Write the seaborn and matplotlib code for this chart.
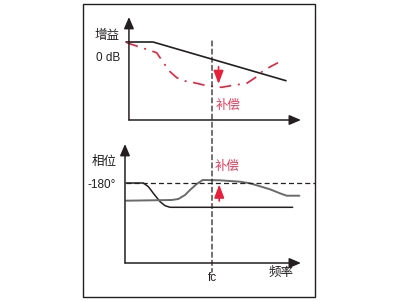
import matplotlib
matplotlib.use("Agg")
import matplotlib.pyplot as plt
import seaborn as sns
import pandas as pd
from matplotlib.patches import ConnectionPatch, Rectangle

sns.set_theme(style="white")
plt.rcParams['font.family'] = ['Liberation Sans', 'Noto Sans CJK SC', 'DejaVu Sans']

# ---- data (schematic units: frequency 0..10, gain in dB-like units, phase in degrees) ----
fc = 5.0
gain_freq = [0.0, 1.57, 9.30]
gain_vals = [0.0, 0.0, -3.87]

comp_gain_freq = [0.04, 0.91, 1.78, 2.27, 2.56, 2.95, 3.43, 4.11, 4.77, 5.56, 6.22, 7.02, 7.60, 7.97, 8.47, 8.84]
comp_gain_vals = [-0.07, -0.57, -1.07, -2.3, -2.97, -3.57, -3.9, -4.13, -4.4, -4.53, -4.33, -4.13, -3.47, -2.87, -2.4, -2.07]

phase_freq = [0.0, 1.01, 1.30, 1.59, 1.98, 2.27, 2.56, 9.69]
phase_vals = [-180, -180, -187.4, -200.6, -217.4, -225.4, -228.6, -228.6]

comp_phase_freq = [0.0, 2.66, 3.04, 3.43, 3.72, 4.11, 4.46, 5.47, 6.63, 7.21, 8.37, 8.95, 9.34, 10.08]
comp_phase_vals = [-215.4, -214, -212, -204, -194, -182, -174, -174.6, -177.4, -180.6, -192.6, -200.6, -205.4, -205.4]

ref_phase = -180
gain_arrow = (5.38, -2.47, -4.2)     # x, from, to
phase_arrow = (5.42, -216, -183)

labels = {"gain": "增益", "zero": "0 dB", "phase": "相位", "deg": "-180°",
          "comp": "补偿", "fc": "fc", "freq": "频率"}

BLACK = "#231f20"
GRAY = "#6a6a6a"
RED = "#e8203c"
RED_TXT = "#ea3a58"

W, H = 406, 301
fig = plt.figure(figsize=(W / 100, H / 100), dpi=100)

# frame
bg = fig.add_axes([0, 0, 1, 1])
bg.set_xlim(0, W); bg.set_ylim(H, 0); bg.axis("off")
bg.add_patch(Rectangle((83.3, 4), 231.7, 292.7, fill=False, ec=BLACK, lw=1.0))

def px_box(x0, x1, y0, y1):
    return [x0 / W, 1 - y1 / H, (x1 - x0) / W, (y1 - y0) / H]

ax1 = fig.add_axes(px_box(120, 306.6, 12, 127))
ax1.set_xlim(-0.35, 10.5); ax1.set_ylim(-8.5, 3.0)
ax2 = fig.add_axes(px_box(120, 306.6, 138, 275))
ax2.set_xlim(-0.35, 10.5); ax2.set_ylim(-364, -90)
for ax in (ax1, ax2):
    ax.axis("off")
    ax.patch.set_alpha(0)

arrow_kw = dict(arrowstyle='-|>,head_length=0.7,head_width=0.3', color=BLACK, lw=1.1,
                shrinkA=0, shrinkB=0, mutation_scale=10)

# top axes
ax1.annotate('', xy=(0.17, 2.5), xytext=(0.17, -7.8), arrowprops=arrow_kw, annotation_clip=False)
ax1.annotate('', xy=(10.17, -7.8), xytext=(0.17, -7.8), arrowprops=arrow_kw, annotation_clip=False)
# bottom axes
ax2.annotate('', xy=(-0.06, -102), xytext=(-0.06, -340), arrowprops=arrow_kw, annotation_clip=False)
ax2.annotate('', xy=(10.17, -340), xytext=(-0.06, -340), arrowprops=arrow_kw, annotation_clip=False)

df_gain = pd.DataFrame({"f": gain_freq, "g": gain_vals})
df_cgain = pd.DataFrame({"f": comp_gain_freq, "g": comp_gain_vals})
df_phase = pd.DataFrame({"f": phase_freq, "p": phase_vals})
df_cphase = pd.DataFrame({"f": comp_phase_freq, "p": comp_phase_vals})

sns.lineplot(data=df_gain, x="f", y="g", ax=ax1, color=BLACK, lw=1.2, estimator=None, sort=False)
sns.lineplot(data=df_cgain, x="f", y="g", ax=ax1, color=RED, lw=1.2, estimator=None, sort=False,
             linestyle=(0, (7, 4, 1.2, 4)))
sns.lineplot(data=df_phase, x="f", y="p", ax=ax2, color=BLACK, lw=1.1, estimator=None, sort=False)
sns.lineplot(data=df_cphase, x="f", y="p", ax=ax2, color=GRAY, lw=1.4, estimator=None, sort=False)

# reference -180 dashed line
ax2.plot([0.0, 10.99], [ref_phase, ref_phase], color=BLACK, lw=0.9, ls=(0, (4, 2.5)), clip_on=False)

# fc dashed vertical line across both panels
con = ConnectionPatch(xyA=(fc, 0.1), coordsA=ax1.transData, xyB=(fc, -358), coordsB=ax2.transData,
                      color=BLACK, lw=0.9, ls=(0, (4, 2.5)))
fig.add_artist(con)

# red compensation arrows
red_kw = dict(arrowstyle='-|>,head_length=0.8,head_width=0.3', color=RED, lw=1.2,
              shrinkA=0, shrinkB=0, mutation_scale=10)
ax1.annotate('', xy=(gain_arrow[0], gain_arrow[2]), xytext=(gain_arrow[0], gain_arrow[1]),
             arrowprops=red_kw)
ax2.annotate('', xy=(phase_arrow[0], phase_arrow[2]), xytext=(phase_arrow[0], phase_arrow[1]),
             arrowprops=red_kw)

fs = 8.5
tk = dict(ha="center", va="center", fontsize=fs)
cjk = dict(ha="center", va="center", fontsize=9, fontweight="medium")
ax1.text(-1.08, 0.65, labels["gain"], color=BLACK, **cjk)
ax1.text(-1.05, -1.6, labels["zero"], color=BLACK, **tk)
ax1.text(5.93, -6.4, labels["comp"], color=RED_TXT, **cjk)
ax2.text(-1.28, -138, labels["phase"], color=BLACK, **cjk)
ax2.text(5.87, -148, labels["comp"], color=RED_TXT, **cjk)
ax2.text(-1.40, -184, labels["deg"], color=BLACK, **tk)
ax2.text(fc, -370, labels["fc"], color=BLACK, **tk)
ax2.text(9.01, -360, labels["freq"], color=BLACK, **cjk)

fig.savefig("out.png", dpi=100)
